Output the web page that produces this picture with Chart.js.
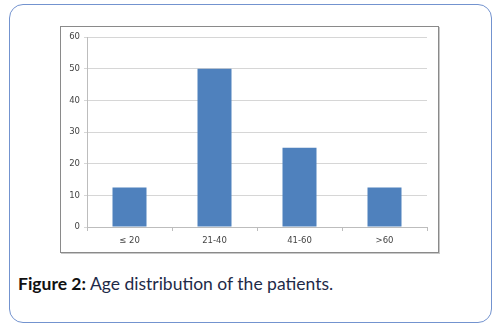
<!DOCTYPE html>
<html>
<head>
<meta charset="utf-8">
<script src="https://cdn.jsdelivr.net/npm/chart.js@4/dist/chart.umd.min.js"></script>
<style>
  html, body { margin: 0; padding: 0; background: #fff; }
  body { width: 501px; height: 329px; position: relative; overflow: hidden; }
  #panel {
    position: absolute; left: 9px; top: 4px; width: 481px; height: 317px;
    border: 1.5px solid #7393cf; border-radius: 14px;
  }
  #frame {
    position: absolute; left: 60px; top: 26px; width: 377px; height: 225px;
    border: 1px solid #8a8a8a; box-shadow: 1px 1px 0 #c8c8c8;
    background: #fff;
  }
  #caption {
    position: absolute; left: 18px; top: 273px; margin: 0;
    font-family: Lato, "Open Sans", sans-serif; font-size: 17.5px; line-height: 21px; color: #1e2a48;
    white-space: nowrap;
  }
  #caption b { color: #111; }
</style>
</head>
<body>
<div id="panel"></div>
<div id="frame"><canvas id="ageChart" width="377" height="225"></canvas></div>
<p id="caption"><b>Figure 2:</b> Age distribution of the patients.</p>

<script>
'use strict';

// age groups and share of patients in each (%)
let ageGroups = ['≤ 20', '21-40', '41-60', '>60'];
let patientPct = [12.5, 50, 25, 12.5];
let yTicks = [0, 10, 20, 30, 40, 50, 60];

const ctx = document.getElementById('ageChart');
const ageChart = new Chart(ctx, {
  type: 'bar',
  data: {
    labels: ageGroups,
    datasets: [{
      data: patientPct,
      backgroundColor: '#4f81bd',
      borderWidth: 0,
      barPercentage: 0.4,
      categoryPercentage: 1
    }]
  },
  options: {
    responsive: false,
    animation: false,
    layout: { padding: { left: 0, top: 10, right: 11, bottom: 0 } },
    plugins: { legend: { display: false }, tooltip: { enabled: false } },
    scales: {
      x: {
        grid: { drawOnChartArea: false, drawTicks: true, tickLength: 4, color: '#bdbdbd' },
        border: { color: '#bdbdbd' },
        ticks: { color: '#444', font: { family: 'DejaVu Sans', size: 8.5 }, padding: 5 },
        afterFit: s => { s.height = 25; }
      },
      y: {
        min: yTicks[0],
        max: yTicks[yTicks.length - 1],
        afterBuildTicks: s => { s.ticks = yTicks.map(v => ({ value: v })); },
        grid: { color: '#d6d6d6', tickLength: 3 },
        border: { color: '#bdbdbd' },
        ticks: { color: '#444', font: { family: 'DejaVu Sans', size: 8.5 }, padding: 4 },
        afterFit: s => { s.width = 26; }
      }
    }
  }
});
</script>
</body>
</html>
